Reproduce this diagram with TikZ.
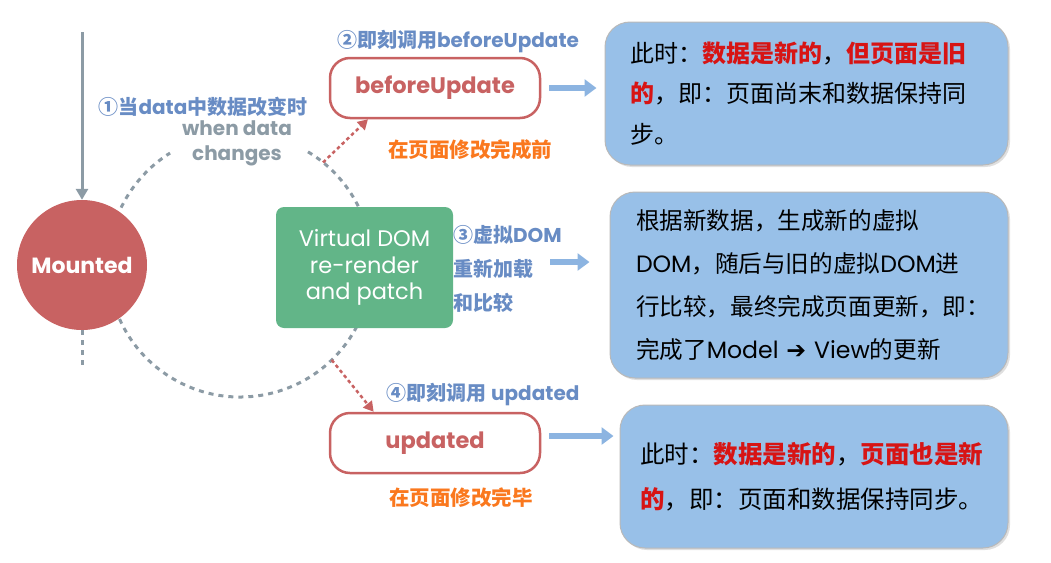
\documentclass[tikz,border=0pt]{standalone}
\usepackage{fontspec}
\setmainfont{Poppins}
\newfontfamily\cjk{Noto Sans CJK SC}
\newfontfamily\symfont{DejaVu Sans}
\usetikzlibrary{arrows.meta,shadows}

\definecolor{mountred}{RGB}{200,98,98}
\definecolor{linegray}{RGB}{140,155,165}
\definecolor{labelblue}{RGB}{104,140,196}
\definecolor{noteorange}{RGB}{250,120,30}
\definecolor{boxblue}{RGB}{152,192,232}
\definecolor{vdomgreen}{RGB}{98,181,136}
\definecolor{arrowblue}{RGB}{140,180,225}
\definecolor{hotred}{RGB}{215,20,20}

\newcommand\en[1]{{\rmfamily #1}}
\newcommand\hot[1]{{\bfseries\color{hotred}#1}}

\tikzset{
  mounted/.style={circle, fill=mountred, minimum size=130pt, inner sep=0pt,
    text=white, font=\bfseries\fontsize{22}{26}\selectfont},
  vdom/.style={fill=vdomgreen, rounded corners=8pt, minimum width=177pt,
    minimum height=121pt, align=center, text=white,
    font=\fontsize{22.5}{26.5}\selectfont},
  hook/.style={draw=mountred, line width=2.5pt, rounded corners=20pt, fill=white,
    minimum width=210pt, minimum height=60pt, text=mountred,
    font=\bfseries\fontsize{22.5}{26}\selectfont},
  infobox/.style={fill=boxblue, draw=gray!55, line width=1pt, rounded corners=25pt,
    align=left, text=black, inner ysep=0pt,
    drop shadow={opacity=0.25, shadow xshift=2pt, shadow yshift=-2pt}},
  steplabel/.style={text=labelblue, inner sep=0pt,
    font=\cjk\bfseries\fontsize{20}{34}\selectfont},
  whenlabel/.style={text=linegray, inner sep=0pt, align=center,
    font=\bfseries\fontsize{20}{25}\selectfont},
  notelabel/.style={text=noteorange, inner sep=0pt,
    font=\cjk\bfseries\fontsize{20.5}{24}\selectfont},
  feedline/.style={linegray, line width=3pt, -{Triangle[length=11pt, width=12pt]}},
  ringline/.style={linegray, line width=3pt, dash pattern=on 5pt off 5pt},
  hookcall/.style={mountred, line width=2.5pt, dash pattern=on 3.5pt off 3pt,
    -{Triangle[length=10pt, width=11pt]}},
  fatarrow/.style={arrowblue, line width=6pt, -{Triangle[length=12pt, width=17pt]}},
}

\begin{document}
\begin{tikzpicture}[x=1pt, y=-1pt]
    \useasboundingbox (0, 0) rectangle (1051, 562) ;
    \coordinate (ring) at (240, 265) ;
    \draw[ringline] (ring) ++(-59:132) arc[start angle=-59, end angle=238, radius=132] ;
    \path (ring) ++(-51:132) coordinate (upout) ;
    \path (ring) ++(46:132) coordinate (downout) ;

    \coordinate (feed) at (82, 32) ;
    \coordinate (tail) at (82, 370) ;
    \node[mounted] (mount) at (82, 265) {Mounted} ;
    \draw[feedline] (feed) -- (mount) ;
    \draw[ringline] (mount) -- (tail) ;

    \node[vdom] (vdom) at (364.5, 267.5) {Virtual DOM\\re-render\\and patch} ;
    \node[hook] (before) at (435, 88) {beforeUpdate} ;
    \node[hook] (updated) at (435, 443) {updated} ;

    \node[steplabel] (s1) at (203, 107) {①当\en{data}中数据改变时} ;
    \node[whenlabel] (when) at (237, 143) {when data\\changes} ;
    \node[steplabel] (s2) at (458, 42) {②即刻调用\en{beforeUpdate}} ;
    \node[steplabel, align=left, anchor=west] (s3) at (453, 269) {③虚拟\en{DOM}\\重新加载\\和比较} ;
    \node[steplabel] (s4) at (483, 395) {④即刻调用 \en{updated}} ;
    \node[notelabel] (n1) at (470, 150) {在页面修改完成前} ;
    \node[notelabel] (n2) at (461, 498) {在页面修改完毕} ;

    \draw[hookcall] (upout) -- (before.205) ;
    \draw[hookcall] (downout) -- (updated.153) ;

    \node[infobox, minimum width=403, minimum height=143, text width=353, inner xsep=25pt,
      font=\cjk\fontsize{24}{40.5}\selectfont] (note1) at (806.5, 93.5)
      {此时：\hot{数据是新的}，\hot{但页面是旧}\\\hot{的}，即：页面尚末和数据保持同\\步。} ;
    \node[infobox, minimum width=398, minimum height=186, text width=346, inner xsep=26pt,
      font=\cjk\fontsize{23.6}{43}\selectfont] (note2) at (809, 285)
      {根据新数据，生成新的虚拟\\\en{DOM}，随后与旧的虚拟\en{DOM}进\\行比较，最终完成页面更新，即：\\完成了\en{Model} {\symfont ➔} \en{View}的更新} ;
    \node[infobox, minimum width=388, minimum height=143, text width=348, inner xsep=20pt,
      font=\cjk\fontsize{24.5}{45}\selectfont] (note3) at (814, 476.5)
      {\raisebox{-6pt}{}此时：\hot{数据是新的}，\hot{页面也是新}\\\hot{的}，即：页面和数据保持同步。} ;

    \draw[fatarrow, shorten <=8pt, shorten >=8pt] (before.east) -- (before.east -| note1.west) ;
    \coordinate (relay) at (550, 262) ;
    \draw[fatarrow, shorten >=20pt] (relay) -- (relay -| note2.west) ;
    \draw[fatarrow, shorten <=8pt, shorten >=6pt] ([yshift=7pt]updated.east) -- ([yshift=7pt]updated.east -| note3.west) ;
\end{tikzpicture}
\end{document}
